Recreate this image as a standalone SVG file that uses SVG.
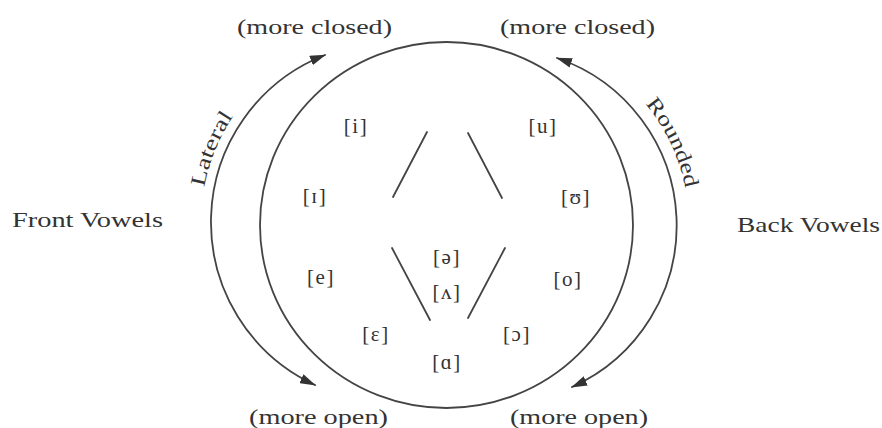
<svg xmlns="http://www.w3.org/2000/svg" width="882" height="428" viewBox="0 0 882 428">
<style>
text{font-family:"Liberation Serif","Times New Roman",serif;fill:#333}
.lbl{font-size:21px}
.v{font-size:21px;text-anchor:middle;letter-spacing:1.5px}
.ln{fill:none;stroke:#444;stroke-width:1.8;stroke-linecap:round}
</style>
<defs>
<marker id="ah" viewBox="0 0 16 10" refX="15" refY="5" markerWidth="16" markerHeight="10" markerUnits="userSpaceOnUse" orient="auto-start-reverse">
<path d="M0,0 L16,5 L0,10 Z" fill="#333"/>
</marker>
<path id="latPath" d="M201,222 A189,189 0 0 1 357.2,35.9"/>
<path id="rndPath" d="M532,37.9 A190,190 0 0 1 686.1,258"/>
</defs>
<rect width="882" height="428" fill="#fff"/>
<g id="connectors">
<ellipse class="ln" cx="446.5" cy="225" rx="186.5" ry="183"/>
<path class="ln" d="M325,55 A179.5,179.5 0 0 0 315,385" marker-start="url(#ah)" marker-end="url(#ah)"/>
<path class="ln" d="M557,58 A177,177 0 0 1 572,387" marker-start="url(#ah)" marker-end="url(#ah)"/>
<line class="ln" x1="427" y1="132" x2="393" y2="197"/>
<line class="ln" x1="468" y1="133" x2="502" y2="198"/>
<line class="ln" x1="392" y1="248" x2="430" y2="320"/>
<line class="ln" x1="505" y1="248" x2="468" y2="318"/>
</g>
<g id="closed-left"><text class="lbl" x="237" y="34" textLength="155" lengthAdjust="spacingAndGlyphs">(more closed)</text></g>
<g id="closed-right"><text class="lbl" x="500" y="34" textLength="155" lengthAdjust="spacingAndGlyphs">(more closed)</text></g>
<g id="open-left"><text class="lbl" x="249" y="424" textLength="139" lengthAdjust="spacingAndGlyphs">(more open)</text></g>
<g id="open-right"><text class="lbl" x="510" y="424" textLength="138" lengthAdjust="spacingAndGlyphs">(more open)</text></g>
<g id="front-vowels"><text class="lbl" x="12" y="227" textLength="151" lengthAdjust="spacingAndGlyphs">Front Vowels</text></g>
<g id="back-vowels"><text class="lbl" x="737" y="232" textLength="143" lengthAdjust="spacingAndGlyphs">Back Vowels</text></g>
<g id="lateral"><text class="lbl"><textPath href="#latPath" startOffset="35" textLength="77" lengthAdjust="spacingAndGlyphs">Lateral</textPath></text></g>
<g id="rounded"><text class="lbl"><textPath href="#rndPath" startOffset="134" textLength="94" lengthAdjust="spacingAndGlyphs">Rounded</textPath></text></g>
<g id="v-i"><text class="v" x="356" y="133">[i]</text></g>
<g id="v-I"><text class="v" x="315" y="203">[ɪ]</text></g>
<g id="v-u"><text class="v" x="543" y="133">[u]</text></g>
<g id="v-U"><text class="v" x="576" y="204">[ʊ]</text></g>
<g id="v-e"><text class="v" x="321" y="284">[e]</text></g>
<g id="v-schwa"><text class="v" x="447" y="264">[ə]</text></g>
<g id="v-wedge"><text class="v" x="447" y="299">[ʌ]</text></g>
<g id="v-o"><text class="v" x="568" y="286">[o]</text></g>
<g id="v-epsilon"><text class="v" x="376" y="341">[ɛ]</text></g>
<g id="v-openo"><text class="v" x="517" y="341">[ɔ]</text></g>
<g id="v-alpha"><text class="v" x="447" y="369">[ɑ]</text></g>
</svg>
